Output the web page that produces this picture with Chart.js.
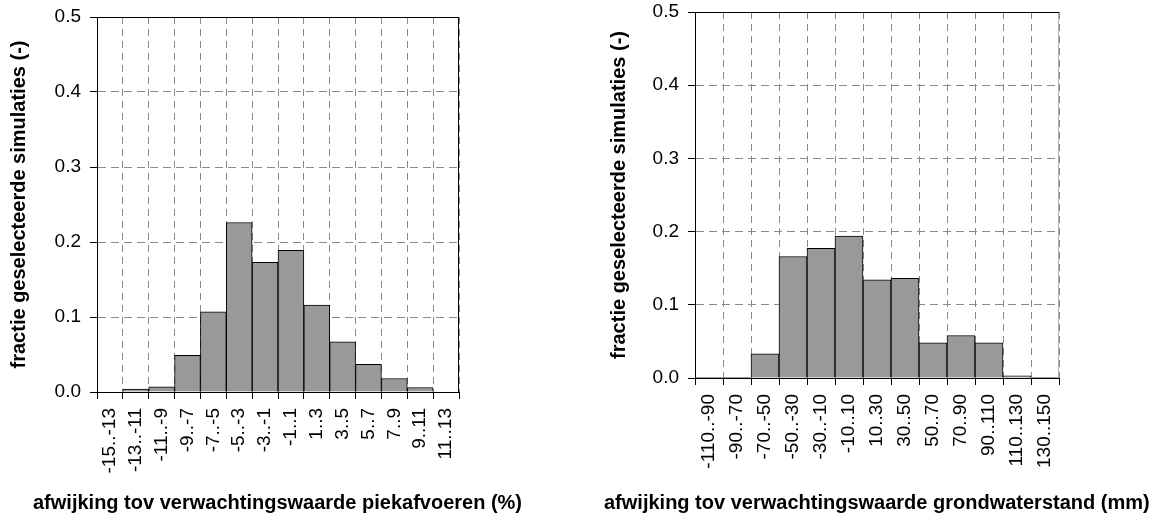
<!DOCTYPE html>
<html>
<head>
<meta charset="utf-8">
<script src="https://cdn.jsdelivr.net/npm/chart.js@4"></script>
<style>
  body { margin: 0; background: #fff; width: 1171px; height: 518px; position: relative; overflow: hidden; }
  .plot { position: absolute; top: 0; height: 518px; }
  #links { left: 0; width: 560px; }
  #rechts { left: 590px; width: 581px; }
</style>
</head>
<body>
<div class="plot" id="links"><canvas id="chartPiek"></canvas></div>
<div class="plot" id="rechts"><canvas id="chartGrondwater"></canvas></div>
<script>
// klassen (afwijking t.o.v. verwachtingswaarde) en fractie geselecteerde simulaties
const KLASSEN_PIEK = [
    "-15..-13", "-13..-11", "-11..-9", "-9..-7", "-7..-5", "-5..-3", "-3..-1",
    "-1..1", "1..3", "3..5", "5..7", "7..9", "9..11", "11..13"
];
const FRACTIE_PIEK = [0, 0.004, 0.007, 0.049, 0.107, 0.226, 0.173, 0.189, 0.116, 0.067, 0.037, 0.018, 0.006, 0];

const KLASSEN_GW = [
    "-110..-90", "-90..-70", "-70..-50", "-50..-30", "-30..-10", "-10..10",
    "10..30", "30..50", "50..70", "70..90", "90..110", "110..130", "130..150"
];
const FRACTIE_GW = [0.0005, 0.001, 0.033, 0.166, 0.177, 0.194, 0.134, 0.136, 0.048, 0.058, 0.048, 0.003, 0.001];

const Y_TICKS = [0, 0.1, 0.2, 0.3, 0.4, 0.5];

const FONT = "'Liberation Sans', Arial, Helvetica, sans-serif";
const GRIJS_STIPPEL = "#8a8a8a";

// kader boven en rechts van het plotvlak
const kaderPlugin = {
    id: "kader",
    afterDatasetsDraw(chart, args, opts) {
        const { ctx, chartArea: a } = chart;
        const top = Math.round(a.top) + 0.5;
        const right = Math.round(a.right) - 0.5;
        ctx.save();
        ctx.lineWidth = 1;
        ctx.strokeStyle = opts.rechts || "#000";
        ctx.beginPath();
        ctx.moveTo(right, top);
        ctx.lineTo(right, a.bottom);
        ctx.stroke();
        ctx.strokeStyle = opts.boven || "#000";
        ctx.beginPath();
        ctx.moveTo(a.left, top);
        ctx.lineTo(a.right, top);
        ctx.stroke();
        ctx.restore();
    }
};

// asbijschrift onder de grafiek
const onderschriftPlugin = {
    id: "onderschrift",
    afterDraw(chart, args, opts) {
        if (!opts.tekst) return;
        const ctx = chart.ctx;
        ctx.save();
        ctx.font = `bold ${opts.grootte}px ${FONT}`;
        ctx.fillStyle = "#000";
        ctx.textAlign = "left";
        ctx.textBaseline = "alphabetic";
        ctx.fillText(opts.tekst, opts.x, opts.y);
        ctx.restore();
    }
};

function maakHistogram(canvasId, klassen, fracties, cfg) {
    const ctx = document.getElementById(canvasId);
    return new Chart(ctx, {
        type: "bar",
        data: {
            labels: klassen,
            datasets: [
                {
                    data: fracties,
                    backgroundColor: "#999999",
                    borderColor: "#000",
                    borderWidth: 1,
                    barPercentage: 1,
                    categoryPercentage: 1
                }
            ]
        },
        options: {
            responsive: true,
            maintainAspectRatio: false,
            animation: false,
            events: [],
            layout: {
                padding: { top: cfg.top, right: cfg.right, bottom: cfg.onder, left: 0 }
            },
            plugins: {
                legend: { display: false },
                tooltip: { enabled: false },
                kader: { boven: "#000", rechts: cfg.kaderRechts },
                onderschrift: { tekst: cfg.xTitel, x: cfg.xTitelX, y: 508.5, grootte: 20 }
            },
            scales: {
                x: {
                    afterFit: scale => {
                        scale.height = cfg.xAsHoogte;
                        scale.paddingLeft = 0;
                        scale.paddingRight = 0;
                    },
                    grid: {
                        offset: true,
                        color: GRIJS_STIPPEL,
                        tickColor: "#000",
                        tickLength: 7
                    },
                    border: { color: "#000", width: 1, dash: [7, 5] },
                    ticks: {
                        autoSkip: false,
                        minRotation: 90,
                        maxRotation: 90,
                        padding: 9,
                        color: "#000",
                        font: { family: FONT, size: 19 }
                    }
                },
                y: {
                    min: 0,
                    max: 0.5,
                    afterFit: scale => {
                        scale.width = cfg.yAsBreedte;
                        scale.paddingTop = 0;
                        scale.paddingBottom = 0;
                    },
                    afterBuildTicks: scale => {
                        scale.ticks = Y_TICKS.map(v => ({ value: v }));
                    },
                    grid: {
                        color: GRIJS_STIPPEL,
                        tickColor: "#000",
                        tickLength: 7
                    },
                    border: { color: "#000", width: 1, dash: [8, 5] },
                    ticks: {
                        padding: 9,
                        color: "#000",
                        font: { family: FONT, size: 19 },
                        callback: v => Number(v).toFixed(1)
                    },
                    title: {
                        display: true,
                        text: "fractie geselecteerde simulaties (-)",
                        color: "#000",
                        font: { family: FONT, size: 20, weight: "bold" },
                        padding: { top: cfg.yTitelPad, bottom: 0 }
                    }
                }
            }
        },
        plugins: [kaderPlugin, onderschriftPlugin]
    });
}

maakHistogram("chartPiek", KLASSEN_PIEK, FRACTIE_PIEK, {
    top: 17,
    right: 101,
    onder: 40,
    xAsHoogte: 86,
    yAsBreedte: 97,
    yTitelPad: 7.5,
    kaderRechts: "#000",
    xTitel: "afwijking tov verwachtingswaarde piekafvoeren (%)",
    xTitelX: 33
});

maakHistogram("chartGrondwater", KLASSEN_GW, FRACTIE_GW, {
    top: 12,
    right: 112,
    onder: 40,
    xAsHoogte: 100,
    yAsBreedte: 105,
    yTitelPad: 17.5,
    kaderRechts: "#b0b0b0",
    xTitel: "afwijking tov verwachtingswaarde grondwaterstand (mm)",
    xTitelX: 14
});
</script>
</body>
</html>
